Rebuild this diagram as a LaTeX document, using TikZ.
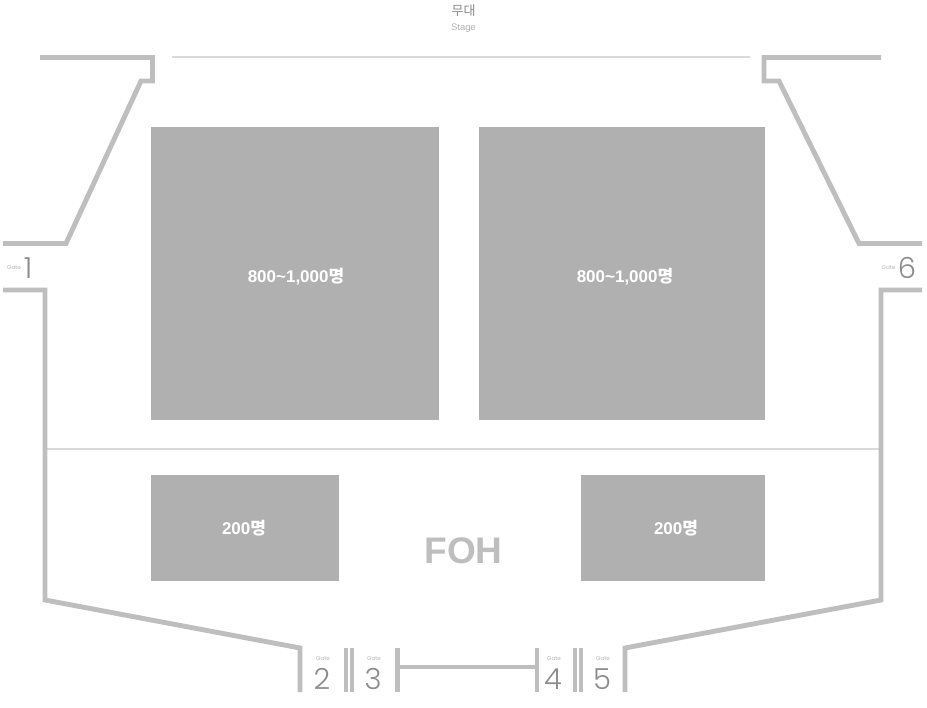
\documentclass[tikz,border=0pt]{standalone}
\usepackage{fontspec}
\setmainfont{Liberation Sans}
\newfontfamily\cjk{Noto Sans CJK KR}
\newfontfamily\thin{Poppins Light}
\definecolor{wallc}{HTML}{BEBEBE}
\definecolor{blockc}{HTML}{B0B0B0}
\definecolor{linec}{HTML}{DADADA}
\definecolor{gatec}{HTML}{8C8C8C}
\newcommand{\myung}{{\cjk\bfseries 명}}
\tikzset{
  wall/.style={draw=wallc,line width=4.9pt,line cap=butt,line join=miter},
  thinline/.style={draw=linec,line width=2pt},
  block/.style={fill=blockc,draw=none,inner sep=0pt},
  seat/.style={text=white,font=\fontsize{17}{19}\selectfont\bfseries,inner sep=0pt},
  gatesmall/.style={text=gatec!80,font=\thin\fontsize{5.6}{7}\selectfont,inner sep=0pt},
  gatenum/.style={text=gatec,font=\thin\fontsize{29}{30}\selectfont,inner sep=0pt},
}
\begin{document}
\begin{tikzpicture}[x=1pt,y=-1pt]
\useasboundingbox[fill=white] (0,0) rectangle (927,708);
% stage
\node[text=gray!90,font=\cjk\fontsize{13}{14}\selectfont,inner sep=0pt] (stagek) at (463.5,11) {무대};
\node[text=gray!60,font=\fontsize{9.5}{10}\selectfont,inner sep=0pt] (stagee) at (463.5,28) {Stage};
\draw[thinline] (172,57) -- (750,57);
% blocks
\node[block,minimum width=288pt,minimum height=293pt] (a) at (295,273.5) {};
\node[block,minimum width=286pt,minimum height=293pt] (b) at (622,273.5) {};
\node[block,minimum width=188pt,minimum height=106pt] (c) at (245,528) {};
\node[block,minimum width=184pt,minimum height=106pt] (d) at (673,528) {};
\node[seat] (at) at (296,277) {800\textasciitilde1,000\myung};
\node[seat] (bt) at (625,277) {800\textasciitilde1,000\myung};
\node[seat] (ct) at (244,528) {200\myung};
\node[seat] (dt) at (676,528) {200\myung};
\node[text=wallc,font=\bfseries\fontsize{37}{40}\selectfont,inner sep=0pt] (foh) at (463.5,551) {FOH};
% divider
\draw[draw=linec,line width=1.6pt] (47,449) -- (879,449);
% walls
\draw[wall] (40,57.5) -- (152.5,57.5) -- (152.5,81) -- (141,81) -- (66,243.5) -- (3,243.5);
\draw[wall] (3,290) -- (45,290) -- (45,600) -- (300,648) -- (300,692);
\draw[wall] (881,57.5) -- (764,57.5) -- (764,81) -- (779,81) -- (859,243.5) -- (922,243.5);
\draw[wall] (922,290) -- (881,290) -- (881,600) -- (625,648) -- (625,692);
\draw[wall,line width=4.2pt] (346,648) -- (346,692);
\draw[wall,line width=4.2pt] (352,648) -- (352,692);
\draw[wall] (397.5,648) -- (397.5,692);
\draw[wall] (537,648) -- (537,692);
\draw[wall] (397.5,667) -- (537,667);
\draw[wall,line width=4.2pt] (575,648) -- (575,692);
\draw[wall,line width=4.2pt] (581,648) -- (581,692);
% gates
\node[gatesmall] (g1) at (14,268) {Gate};
\node[gatenum] (n1) at (28,268) {1};
\node[gatesmall] (g6) at (888.5,268) {Gate};
\node[gatenum] (n6) at (907,268) {6};
\node[gatesmall] (g2) at (323,659) {Gate};
\node[gatenum] (n2) at (322,679) {2};
\node[gatesmall] (g3) at (374,659) {Gate};
\node[gatenum] (n3) at (373,679) {3};
\node[gatesmall] (g4) at (554,659) {Gate};
\node[gatenum] (n4) at (553,679) {4};
\node[gatesmall] (g5) at (603,659) {Gate};
\node[gatenum] (n5) at (602,679) {5};
\end{tikzpicture}
\end{document}
